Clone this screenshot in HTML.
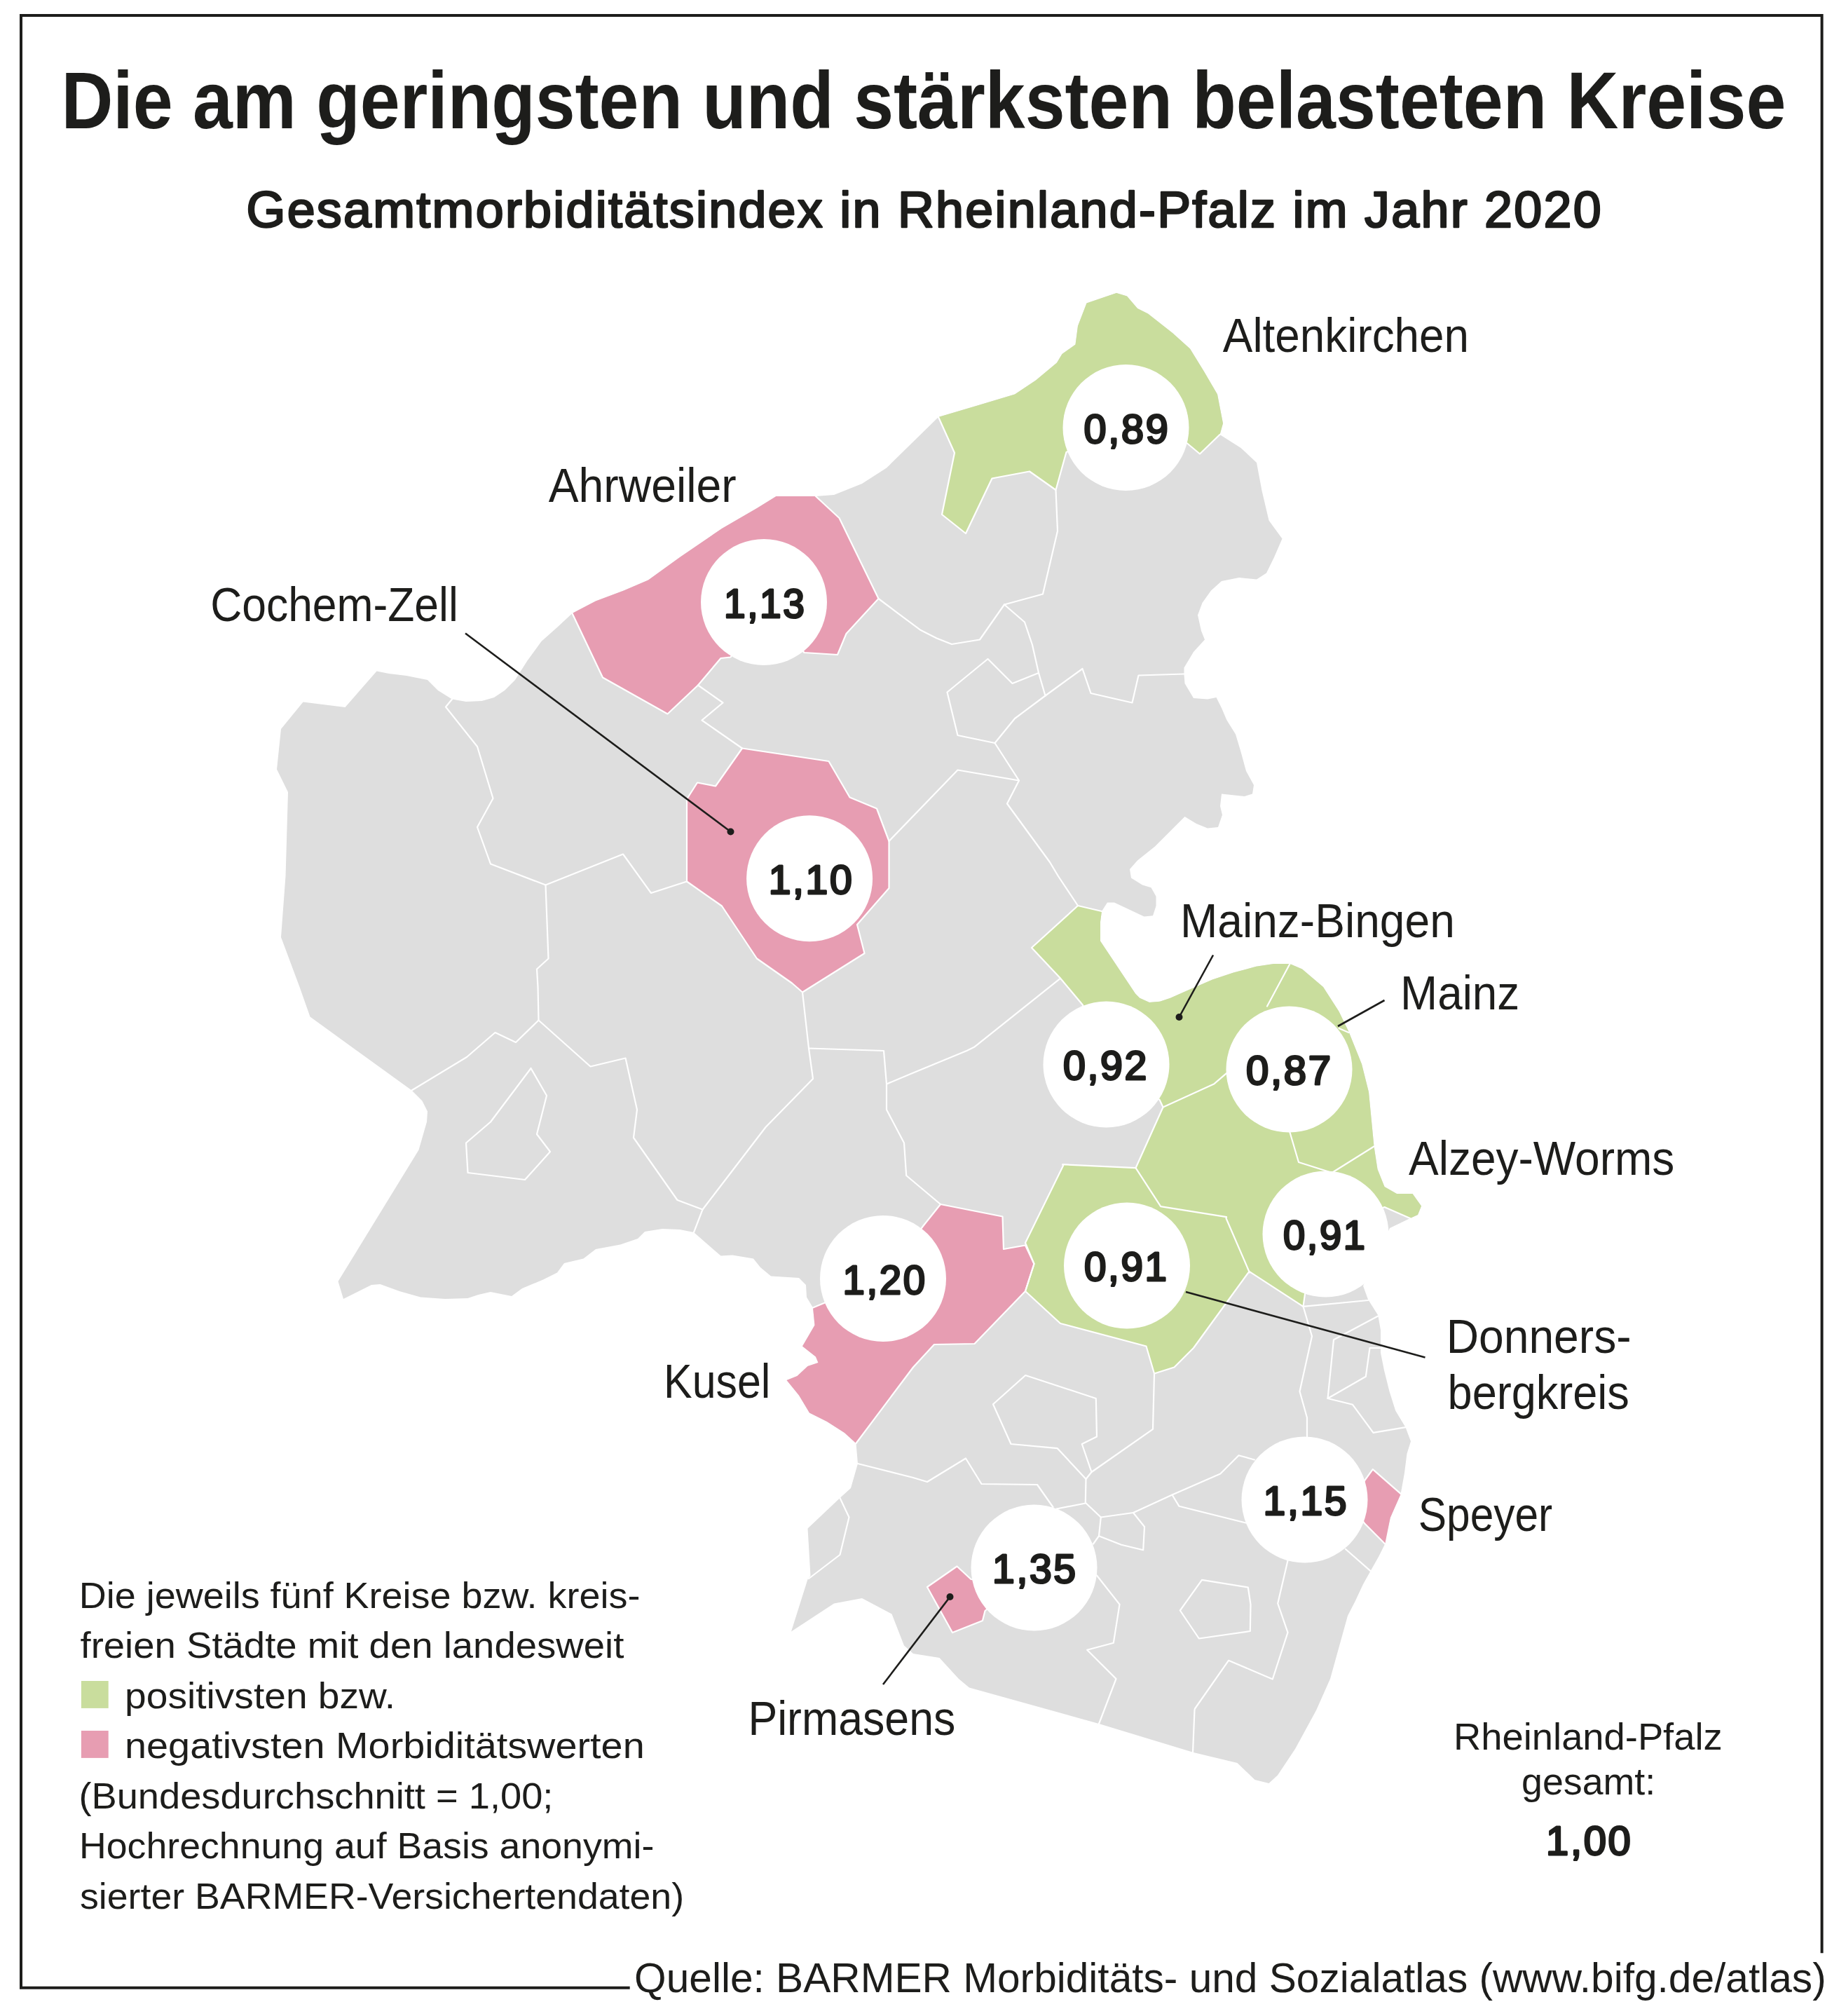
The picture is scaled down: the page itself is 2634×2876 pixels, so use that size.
<!DOCTYPE html>
<html lang="de"><head><meta charset="utf-8"><title>Die am geringsten und stärksten belasteten Kreise</title>
<style>html,body{margin:0;padding:0;background:#fff}svg{display:block}text{font-family:"Liberation Sans",sans-serif;fill:#1d1d1b}.b{font-weight:bold}.w{fill:none;stroke:#fff;stroke-width:2.2;stroke-linejoin:round;stroke-linecap:round}.k{stroke:#1d1d1b;stroke-width:2.6;fill:none}</style></head><body>
<svg width="2634" height="2876" viewBox="0 0 2634 2876">
<rect width="2634" height="2876" fill="#fff"/>
<path d="M898.7,2835.8 H30 V22.1 H2599.6 V2786.2" fill="none" stroke="#1d1d1b" stroke-width="4"/>
<polygon points="1339,595 1393,579 1448,562.5 1478,542.5 1508,517.5 1515.5,505 1534.5,491.5 1538,465 1550.5,432.5 1593,418 1608,422.5 1623,440 1638,447.5 1673,475 1698,497.5 1718,530 1737,562.5 1745,604 1740.5,620 1770.5,639 1793,660 1800.5,700 1810.5,742.5 1829.5,768.5 1818,795 1807,817.5 1793,826.5 1768,824 1743,829 1728,842.5 1715.5,860 1709,877.5 1714,900 1719,912.5 1703,930 1689.5,952.5 1689.5,962.5 1690.5,975 1703,996 1723,997.5 1735.5,995 1743,1010 1750.5,1027.5 1763,1047.5 1770.5,1072.5 1778,1100 1789,1120 1787,1132.5 1775.5,1136 1743,1132.5 1741,1150 1744,1162.5 1738,1180 1723,1181.5 1707,1175 1690.5,1165 1670.5,1185 1648,1207.5 1623,1227.5 1612,1240 1614,1252.5 1630,1262.5 1642.5,1266.2 1649.5,1278.8 1649.5,1292.5 1645,1306.2 1632.5,1307.5 1590,1287.5 1580,1287.5 1572,1300 1570,1315 1570,1342.5 1580,1357.5 1620,1417.5 1626.2,1423.8 1640,1430 1655,1428.8 1670,1423.8 1692.5,1413.8 1730,1397.5 1760,1387.5 1792.5,1378.8 1817.5,1375 1841.5,1375 1840.5,1375 1858,1382.5 1888,1408 1910.5,1443 1924.5,1472 1943,1518 1953,1558 1960.5,1635.5 1965.5,1668 1975.5,1693 1993,1703 2015.5,1703 2028,1720.5 2023,1733 2012,1738 1983,1752 1945,1834.5 1952,1853.8 1966.2,1876.2 1970,1897.5 1970,1930 1975,1955 1982.5,1985 1991.2,2012.5 2005.5,2036.2 2013,2056.2 2007.5,2073.8 2003.8,2102.5 1998.8,2130 1983.8,2165 1978,2190 1976.2,2202.5 1967.5,2220 1955.5,2241.2 1945,2260 1933.8,2284 1923,2305 1910.5,2350 1898,2395 1878,2440 1848,2495 1823,2532.5 1810.5,2544 1790.5,2539 1765.5,2515 1703,2500 1568,2459 1383,2407.5 1368,2395 1340.5,2365 1303,2359 1290,2347.5 1272.5,2302.5 1230,2280 1190,2287.5 1129,2327.5 1152.5,2253 1156.5,2248 1152.5,2180.5 1198.5,2137 1214,2123 1224,2088 1221.5,2059 1205,2044 1180,2028 1155,2015.5 1140,1990.5 1122.5,1969 1137.5,1963 1152.5,1949 1167.5,1944 1164,1935.5 1145,1920.5 1162.5,1890.5 1160,1865.5 1151,1850.5 1150,1833 1140,1823 1100,1820.5 1085,1808 1075,1795.5 1045,1790.5 1028.5,1791.5 1010,1775.5 990,1758 970,1754 945,1753 920,1757 910,1767 885,1775.5 850,1782 832.5,1795.5 805,1802 795,1815.5 775,1825.5 745,1838 730,1849 700,1843 682.5,1847 667.5,1852 635,1853 600,1850.5 570,1842 542.5,1832 530,1833 490,1853 482.5,1828 597.5,1640.5 609,1600.5 610,1585.5 602.5,1570.5 587.5,1555.5 442.5,1450.5 427.5,1408 401,1337 407.5,1250 411,1130 395,1097.5 401,1040 432.5,1001.5 492.5,1009 537.5,957.5 555,961 580,964 610,970 625,985 645,997.5 665,1001 687.5,1000 705,995 720,985 735,970 752.5,942.5 772.5,915 795,895 816.5,875 850,857.5 890,842.5 925,827.5 970,795 1030,754 1080,725 1107.5,708 1164,708 1190,706 1230,690 1265,667.5" fill="#dedede"/>
<polygon points="1538,1292 1572,1300 1570,1315 1570,1342.5 1580,1357.5 1620,1417.5 1626.2,1423.8 1640,1430 1655,1428.8 1670,1423.8 1692.5,1413.8 1730,1397.5 1760,1387.5 1792.5,1378.8 1817.5,1375 1841.5,1375 1840.5,1375 1858,1382.5 1888,1408 1910.5,1443 1924.5,1472 1943,1518 1953,1558 1960.5,1635.5 1965.5,1668 1975.5,1693 1993,1703 2015.5,1703 2028,1720.5 2023,1733 2012,1738 1975.5,1722 1891.5,1760.5 1862,1846.2 1859.5,1863.8 1782.5,1813.8 1703,1923 1675.5,1950.5 1647,1959.5 1635.5,1920.5 1513,1888 1463,1842 1475.5,1803 1463,1773 1517,1663 1516.2,1661.2 1620.5,1666.2 1659.5,1579.5 1654.5,1568.8 1578.8,1518.8 1545,1433.8 1512.5,1395 1472,1352" fill="#c9dd9d"/>
<polygon points="1339,595 1393,579 1448,562.5 1478,542.5 1508,517.5 1515.5,505 1534.5,491.5 1538,465 1550.5,432.5 1593,418 1608,422.5 1623,440 1638,447.5 1673,475 1698,497.5 1718,530 1737,562.5 1745,604 1740.5,620 1712,647.5 1694,632.5 1606.5,610 1521.5,645 1506.5,699 1469,672.5 1415.5,682.5 1378,761 1344,734 1362,646" fill="#c9dd9d"/>
<polygon points="816.5,875 850,857.5 890,842.5 925,827.5 970,795 1030,754 1080,725 1107.5,708 1164,708 1197.5,739 1253.5,854 1207.5,904 1195,934 1147.5,931 1090,859 1042.5,937.5 1028.5,939 996,977.5 952.5,1018.5 860,966.5" fill="#e79db2"/>
<polygon points="1059,1067.5 1182.5,1086 1212.5,1137.5 1251,1153.5 1268.5,1200 1268.5,1267 1223,1319 1233.5,1360 1145,1415.5 1130,1402.5 1080,1367.5 1030,1292.5 980,1257.5 980,1140 995,1116.5 1021,1121.5" fill="#e79db2"/>
<polygon points="1160,1865.5 1162.5,1890.5 1145,1920.5 1164,1935.5 1167.5,1944 1152.5,1949 1137.5,1963 1122.5,1969 1140,1990.5 1155,2015.5 1180,2028 1205,2044 1221.5,2059 1303,1950.5 1333,1918 1390.5,1917 1463,1842 1475.5,1803 1463,1776.5 1432,1782 1430.5,1735.5 1342,1718 1318,1748 1260,1824" fill="#e79db2"/>
<polygon points="1958.8,2096.2 1998.8,2131.2 1983.8,2165 1976.2,2202.5 1947.5,2173.8 1925,2142.5" fill="#e79db2"/>
<polygon points="1323,2264 1365.5,2234.5 1385.5,2253 1453,2258 1405.5,2298 1402,2312 1359,2329" fill="#e79db2"/>
<polyline class="w" points="2012,1738 1975.5,1722 1891.5,1760.5 1862,1846.2 1859.5,1863.8 1782.5,1813.8 1703,1923 1675.5,1950.5 1647,1959.5 1635.5,1920.5 1513,1888 1463,1842 1475.5,1803 1463,1773 1517,1663 1516.2,1661.2 1620.5,1666.2 1659.5,1579.5 1654.5,1568.8 1578.8,1518.8 1545,1433.8 1512.5,1395 1472,1352 1538,1292 1572,1300"/>
<polyline class="w" points="1740.5,620 1712,647.5 1694,632.5 1606.5,610 1521.5,645 1506.5,699 1469,672.5 1415.5,682.5 1378,761 1344,734 1362,646 1339,595"/>
<polyline class="w" points="1164,708 1197.5,739 1253.5,854 1207.5,904 1195,934 1147.5,931 1090,859 1042.5,937.5 1028.5,939 996,977.5 952.5,1018.5 860,966.5 816.5,875"/>
<polyline class="w" points="1059,1067.5 1182.5,1086 1212.5,1137.5 1251,1153.5 1268.5,1200 1268.5,1267 1223,1319 1233.5,1360 1145,1415.5 1130,1402.5 1080,1367.5 1030,1292.5 980,1257.5 980,1140 995,1116.5 1021,1121.5 1059,1067.5"/>
<polyline class="w" points="1221.5,2059 1303,1950.5 1333,1918 1390.5,1917 1463,1842 1475.5,1803 1463,1776.5 1432,1782 1430.5,1735.5 1342,1718 1318,1748 1260,1824 1160,1865.5"/>
<polyline class="w" points="1976.2,2202.5 1947.5,2173.8 1925,2142.5 1958.8,2096.2 1998.8,2131.2"/>
<polyline class="w" points="1323,2264 1365.5,2234.5 1385.5,2253 1453,2258 1405.5,2298 1402,2312 1359,2329 1323,2264"/>
<polyline class="w" points="996,977.5 1031.5,1002.5 1001.5,1027.5 1059,1067.5"/>
<polyline class="w" points="645,997.5 636,1008.5 681,1065 703.5,1139 681,1180 700,1232.5 778.5,1262.5"/>
<polyline class="w" points="778.5,1262.5 889,1218.5 929,1274 980,1257.5"/>
<polyline class="w" points="778.5,1262.5 782.5,1367.5 766,1382.5 767.5,1408 768.5,1455.5"/>
<polyline class="w" points="1253.5,854 1281.2,874.8 1313.8,899.1 1336.5,910.5 1358,919 1398,912.5 1433,862.5"/>
<polyline class="w" points="1268.5,1200 1366.5,1098.5 1454,1113.5"/>
<polyline class="w" points="1506.5,699 1509,757.5 1488,847.5 1433,862.5"/>
<polyline class="w" points="1433,862.5 1462,887.5 1473,920 1482,960 1491.5,992.5"/>
<polyline class="w" points="1482,960 1444.5,975 1409.5,940 1351.5,987.5 1366.5,1049 1419.5,1060"/>
<polyline class="w" points="1491.5,992.5 1544.5,954 1556.5,989 1615.5,1002.5 1624.5,963.5 1689.5,961.5"/>
<polyline class="w" points="1491.5,992.5 1448,1025 1419.5,1060 1454,1113.5 1437,1146.5 1498,1230 1510,1250 1538,1292"/>
<polyline class="w" points="768.5,1455.5 736,1487 706.5,1473 666,1508 587.5,1555.5"/>
<polyline class="w" points="768.5,1455.5 842.5,1521.5 892.5,1509.5 909,1583 904,1623 966.5,1712 1002.5,1725.5 990,1758"/>
<polyline class="w" points="757.5,1524 780,1563 766,1618 785,1643 749,1683 667.5,1673 665,1630.5 700,1600.5 757.5,1524"/>
<polyline class="w" points="1145,1415.5 1154,1495.5 1160,1539 1092.5,1608 1002.5,1725.5"/>
<polyline class="w" points="1154,1495.5 1261,1499 1265,1546.5 1303,1530.5 1380,1498.8 1390,1493.8 1512.5,1396.2"/>
<polyline class="w" points="1265,1546.5 1265,1583 1290,1630.5 1293.2,1677 1342,1718"/>
<polyline class="w" points="1224,2088 1303,2108 1323,2114 1378,2080.5 1400.5,2117 1480,2118 1502.5,2150"/>
<polyline class="w" points="1198.5,2137 1211.5,2164.5 1198.5,2218 1154,2252"/>
<polyline class="w" points="1557.5,2100 1543.8,2060 1565,2049.5 1563.8,1995 1463.2,1962 1417,2003.2 1442.5,2060 1508.8,2066.2 1549.5,2110"/>
<polyline class="w" points="1647,1959.5 1645,2038.8 1557.5,2100 1549.5,2110 1548.8,2143.8 1570.8,2164.5 1617,2158 1672.5,2132.5 1741.2,2102.5 1767.5,2076.2 1790,2082.5"/>
<polyline class="w" points="1507.5,2152.5 1548.8,2144.5"/>
<polyline class="w" points="1570.8,2164.5 1568,2191.2 1560,2202.5"/>
<polyline class="w" points="1568,2191.2 1600,2203.8 1631.2,2211.2 1633,2178 1617,2158"/>
<polyline class="w" points="1672.5,2132.5 1682.5,2148.8 1777.5,2172.5"/>
<polyline class="w" points="1565,2247.5 1597.5,2288.8 1588.8,2343.8 1551.2,2353.8 1592.5,2395 1570,2454 1568,2459"/>
<polyline class="w" points="1715,2253.8 1780.8,2264.5 1784.5,2288.8 1783.8,2327 1710.8,2337.5 1683.8,2297.5 1715,2253.8"/>
<polyline class="w" points="1837.5,2226.2 1823.2,2287.5 1837.5,2328.8 1815.8,2395.5 1753,2368.8 1705,2437.5 1704.5,2439 1702,2500"/>
<polyline class="w" points="1859.5,1863.8 1952,1855"/>
<polyline class="w" points="1859.5,1863.8 1872,1906.2 1854.5,1985 1865,2022.5 1865,2050"/>
<polyline class="w" points="1966.2,1877.5 1903,1911.2 1894.5,1995 1948.8,1963.8 1954.5,1923 1970,1923"/>
<polyline class="w" points="1894.5,1995 1930,2003.8 1959.5,2043.8 2005.5,2036.2"/>
<polyline class="w" points="1920,2210 1955.5,2241.2"/>
<polyline class="w" points="1840.5,1375 1808,1435.5"/>
<polyline class="w" points="1910.5,1467 1924.5,1473"/>
<polyline class="w" points="1659.5,1579.5 1732.5,1546.2 1750,1531.2"/>
<polyline class="w" points="1840.5,1615.5 1853,1658 1900.5,1673 1960.5,1635.5"/>
<polyline class="w" points="1620.5,1666.2 1656.2,1721.2 1750,1736.2 1749.5,1738 1783,1815.5"/>
<circle cx="1606.5" cy="610" r="90" fill="#fff"/>
<circle cx="1090" cy="859" r="90" fill="#fff"/>
<circle cx="1155.1" cy="1253.2" r="90" fill="#fff"/>
<circle cx="1578.5" cy="1518.5" r="90" fill="#fff"/>
<circle cx="1839.5" cy="1525.5" r="90" fill="#fff"/>
<circle cx="1891.5" cy="1760.5" r="90" fill="#fff"/>
<circle cx="1608" cy="1805.5" r="90" fill="#fff"/>
<circle cx="1260" cy="1824" r="90" fill="#fff"/>
<circle cx="1861.5" cy="2139.5" r="90" fill="#fff"/>
<circle cx="1475.5" cy="2236.5" r="90" fill="#fff"/>
<line class="k" x1="664" y1="903.5" x2="1042.5" y2="1186.5"/>
<circle cx="1042.5" cy="1186.5" r="5" fill="#1d1d1b"/>
<line class="k" x1="1731" y1="1362.5" x2="1682.5" y2="1451"/>
<circle cx="1682.5" cy="1451" r="5" fill="#1d1d1b"/>
<line class="k" x1="1975.5" y1="1427" x2="1909" y2="1464"/>
<line class="k" x1="2033.5" y1="1936.5" x2="1692" y2="1843"/>
<line class="k" x1="1260" y1="2403" x2="1355.5" y2="2278"/>
<circle cx="1355.5" cy="2278" r="5" fill="#1d1d1b"/>
<rect x="115.9" y="2398" width="38.8" height="38.9" fill="#c9dd9d"/>
<rect x="115.9" y="2469" width="38.8" height="38.9" fill="#e79db2"/>
<text class="b" x="87.4" y="183" font-size="115" textLength="2460.9" lengthAdjust="spacingAndGlyphs">Die am geringsten und stärksten belasteten Kreise</text>
<text x="351.5" y="324" font-size="73" textLength="1935.5" lengthAdjust="spacingAndGlyphs" stroke="#1d1d1b" stroke-width="2.6" stroke-linejoin="round" letter-spacing="2.34">Gesamtmorbiditätsindex in Rheinland-Pfalz im Jahr 2020</text>
<text x="1744.8" y="501.6" font-size="69" textLength="351.3" lengthAdjust="spacingAndGlyphs">Altenkirchen</text>
<text x="782.7" y="715.8" font-size="69" textLength="268.0" lengthAdjust="spacingAndGlyphs">Ahrweiler</text>
<text x="300.2" y="885.7" font-size="69" textLength="353.6" lengthAdjust="spacingAndGlyphs">Cochem-Zell</text>
<text x="1683.9" y="1336.9" font-size="69" textLength="391.9" lengthAdjust="spacingAndGlyphs">Mainz-Bingen</text>
<text x="1998.1" y="1439.8" font-size="69" textLength="170.1" lengthAdjust="spacingAndGlyphs">Mainz</text>
<text x="2010.0" y="1675.5" font-size="69" textLength="379.3" lengthAdjust="spacingAndGlyphs">Alzey-Worms</text>
<text x="2063.7" y="1930.2" font-size="69" textLength="263.9" lengthAdjust="spacingAndGlyphs">Donners-</text>
<text x="2065.6" y="2009.7" font-size="69" textLength="259.3" lengthAdjust="spacingAndGlyphs">bergkreis</text>
<text x="2023.8" y="2183.7" font-size="69" textLength="191.3" lengthAdjust="spacingAndGlyphs">Speyer</text>
<text x="947.0" y="1993.8" font-size="69" textLength="152.4" lengthAdjust="spacingAndGlyphs">Kusel</text>
<text x="1067.4" y="2474.5" font-size="69" textLength="296.0" lengthAdjust="spacingAndGlyphs">Pirmasens</text>
<text x="2074.1" y="2496.4" font-size="53" textLength="383.6" lengthAdjust="spacingAndGlyphs">Rheinland-Pfalz</text>
<text x="2171.1" y="2560.1" font-size="53" textLength="191.1" lengthAdjust="spacingAndGlyphs">gesamt:</text>
<text x="2206.0" y="2646" font-size="58" textLength="123.5" lengthAdjust="spacingAndGlyphs" stroke="#1d1d1b" stroke-width="3" stroke-linejoin="round" letter-spacing="2.7">1,00</text>
<text x="905.1" y="2841.9" font-size="60" textLength="1700.6" lengthAdjust="spacingAndGlyphs">Quelle: BARMER Morbiditäts- und Sozialatlas (www.bifg.de/atlas)</text>
<text x="112.7" y="2294.2" font-size="51.4" textLength="800.8" lengthAdjust="spacingAndGlyphs">Die jeweils fünf Kreise bzw. kreis-</text>
<text x="114.5" y="2365.2" font-size="51.4" textLength="775.8" lengthAdjust="spacingAndGlyphs">freien Städte mit den landesweit</text>
<text x="178.1" y="2436.9" font-size="51.4" textLength="386.1" lengthAdjust="spacingAndGlyphs">positivsten bzw.</text>
<text x="178.0" y="2507.5" font-size="51.4" textLength="741.7" lengthAdjust="spacingAndGlyphs">negativsten Morbiditätswerten</text>
<text x="112.4" y="2580.4" font-size="51.4" textLength="677.0" lengthAdjust="spacingAndGlyphs">(Bundesdurchschnitt = 1,00;</text>
<text x="113.0" y="2651.2" font-size="51.4" textLength="820.3" lengthAdjust="spacingAndGlyphs">Hochrechnung auf Basis anonymi-</text>
<text x="114.0" y="2722.5" font-size="51.4" textLength="862.1" lengthAdjust="spacingAndGlyphs">sierter BARMER-Versichertendaten)</text>
<text x="1546.6" y="631.6" font-size="58" textLength="122.8" lengthAdjust="spacingAndGlyphs" stroke="#1d1d1b" stroke-width="3" stroke-linejoin="round" letter-spacing="2.7">0,89</text>
<text x="1033.0" y="880.6" font-size="58" textLength="117.5" lengthAdjust="spacingAndGlyphs" stroke="#1d1d1b" stroke-width="3" stroke-linejoin="round" letter-spacing="2.7">1,13</text>
<text x="1096.7" y="1274.8" font-size="58" textLength="121.7" lengthAdjust="spacingAndGlyphs" stroke="#1d1d1b" stroke-width="3" stroke-linejoin="round" letter-spacing="2.7">1,10</text>
<text x="1517.0" y="1540.1" font-size="58" textLength="122.1" lengthAdjust="spacingAndGlyphs" stroke="#1d1d1b" stroke-width="3" stroke-linejoin="round" letter-spacing="2.7">0,92</text>
<text x="1778.0" y="1547.1" font-size="58" textLength="123.7" lengthAdjust="spacingAndGlyphs" stroke="#1d1d1b" stroke-width="3" stroke-linejoin="round" letter-spacing="2.7">0,87</text>
<text x="1831.0" y="1782.1" font-size="58" textLength="119.5" lengthAdjust="spacingAndGlyphs" stroke="#1d1d1b" stroke-width="3" stroke-linejoin="round" letter-spacing="2.7">0,91</text>
<text x="1547.0" y="1827.1" font-size="58" textLength="120.6" lengthAdjust="spacingAndGlyphs" stroke="#1d1d1b" stroke-width="3" stroke-linejoin="round" letter-spacing="2.7">0,91</text>
<text x="1202.6" y="1845.6" font-size="58" textLength="120.2" lengthAdjust="spacingAndGlyphs" stroke="#1d1d1b" stroke-width="3" stroke-linejoin="round" letter-spacing="2.7">1,20</text>
<text x="1802.6" y="2161.1" font-size="58" textLength="121.6" lengthAdjust="spacingAndGlyphs" stroke="#1d1d1b" stroke-width="3" stroke-linejoin="round" letter-spacing="2.7">1,15</text>
<text x="1416.1" y="2258.1" font-size="58" textLength="121.6" lengthAdjust="spacingAndGlyphs" stroke="#1d1d1b" stroke-width="3" stroke-linejoin="round" letter-spacing="2.7">1,35</text>
</svg></body></html>
